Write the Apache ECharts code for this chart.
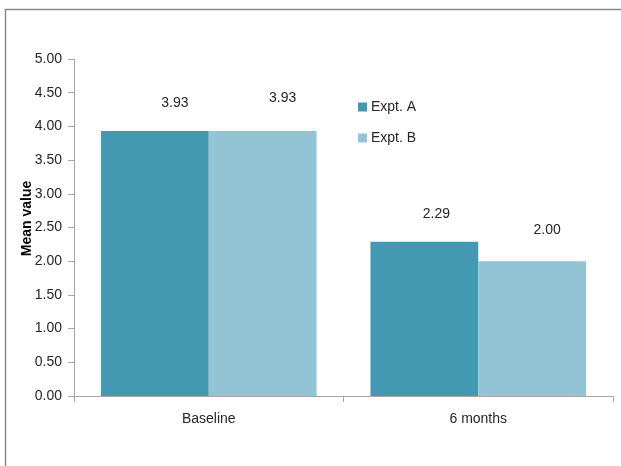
<!DOCTYPE html>
<html>
<head>
<meta charset="utf-8">
<script src="https://cdn.jsdelivr.net/npm/echarts@6/dist/echarts.min.js"></script>
<style>
  html, body { margin: 0; padding: 0; background: #fff; }
  #chart { width: 621px; height: 466px; }
</style>
</head>
<body>
<div id="chart"></div>
<script>
// Categories, series and tick values
const categories = ['Baseline', '6 months'];
const seriesNames = ['Expt. A', 'Expt. B'];
const exptA = [3.93, 2.29];
const exptB = [3.93, 2.00];
const yTicks = [0, 0.5, 1, 1.5, 2, 2.5, 3, 3.5, 4, 4.5, 5];

// Value label placement (pixel nudges relative to the top of each bar)
const labelNudgeA = [[20, -16], [12, -16]];
const labelNudgeB = [[20, -21], [15, -19]];

const FONT = 'Liberation Sans';
const TEXT = '#262626';
const FS = 14;

function withLabels(values, nudges) {
  return values.map((v, i) => ({
    value: v,
    label: { offset: nudges[i] }
  }));
}

const chart = echarts.init(document.getElementById('chart'), null, { renderer: 'canvas' });

chart.setOption({
  animation: false,
  backgroundColor: '#ffffff',
  textStyle: { fontFamily: FONT },
  graphic: [{
    type: 'rect',
    x: 0, y: 0,
    shape: { x: 5.5, y: 9.5, width: 640, height: 480 },
    style: { fill: 'none', stroke: '#8a8a8a', lineWidth: 1.5 },
    silent: true
  }],
  grid: { left: 74, right: 8, top: 59, bottom: 70 },
  legend: {
    orient: 'vertical',
    left: 358, top: 100,
    padding: 0,
    itemWidth: 9, itemHeight: 9,
    itemGap: 17,
    icon: 'rect',
    textStyle: { fontFamily: FONT, fontSize: FS, color: TEXT, padding: [0, 0, 0, -1] },
    data: seriesNames
  },
  xAxis: {
    type: 'category',
    data: categories,
    axisLine: { lineStyle: { color: '#a6a6a6', width: 1 } },
    axisTick: { show: true, length: 6, lineStyle: { color: '#a6a6a6' } },
    axisLabel: { fontFamily: FONT, fontSize: FS, color: TEXT, margin: 16 },
    splitLine: { show: false }
  },
  yAxis: {
    type: 'value',
    min: yTicks[0],
    max: yTicks[yTicks.length - 1],
    interval: yTicks[1] - yTicks[0],
    name: 'Mean value',
    nameLocation: 'middle',
    nameRotate: 90,
    nameGap: 40,
    nameMoveOverlap: false,
    nameTextStyle: {
      fontFamily: FONT, fontSize: FS, fontWeight: 'bold', color: '#000',
      padding: [0, 0, 0, 18]
    },
    axisLine: { show: true, lineStyle: { color: '#a6a6a6', width: 1 } },
    axisTick: { show: true, length: 6, lineStyle: { color: '#a6a6a6' } },
    axisLabel: {
      fontFamily: FONT, fontSize: FS, color: TEXT, margin: 12,
      formatter: v => v.toFixed(2)
    },
    splitLine: { show: false }
  },
  series: [
    {
      name: seriesNames[0],
      type: 'bar',
      data: withLabels(exptA, labelNudgeA),
      barGap: '0%',
      barCategoryGap: '20%',
      itemStyle: { color: '#4399b1' },
      label: {
        show: true, position: 'top',
        fontFamily: FONT, fontSize: FS, color: TEXT,
        formatter: p => p.value.toFixed(2)
      }
    },
    {
      name: seriesNames[1],
      type: 'bar',
      data: withLabels(exptB, labelNudgeB),
      barGap: '0%',
      barCategoryGap: '20%',
      itemStyle: { color: '#93c4d5' },
      label: {
        show: true, position: 'top',
        fontFamily: FONT, fontSize: FS, color: TEXT,
        formatter: p => p.value.toFixed(2)
      }
    }
  ]
});
</script>
</body>
</html>
